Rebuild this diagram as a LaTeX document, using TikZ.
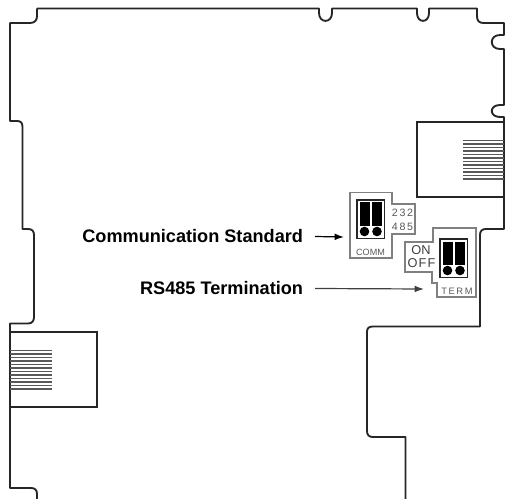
\documentclass[tikz,border=0pt]{standalone}
\usepackage{fontspec}
\usetikzlibrary{arrows.meta}
\setmainfont{Liberation Sans}
\tikzset{
  board/.style={line width=1.4pt, draw=black!85},
  port/.style={line width=1.3pt, draw=black!85},
  pins/.style={line width=1.1pt, draw=black!65},
  silk/.style={line width=.8pt, draw=black!50},
  silktext/.style={inner sep=0, text=black!65},
  callout/.style={inner sep=0, outer sep=9pt, anchor=east, font=\bfseries\fontsize{13.6}{16}\selectfont},
}
\begin{document}
\begin{tikzpicture}[x=.75pt, y=-.75pt]
        \useasboundingbox (0, 0) rectangle (507, 499);
        % board outline, top and right
        \draw[board, line join=round]
        (37, 8.5) -- (319, 8.5) -- (319, 13) .. controls (319, 23.5) and (332, 23.5) .. (332, 13) -- (332, 8.5)
        -- (417, 8.5) -- (417, 13) .. controls (417, 23.5) and (429, 23.5) .. (429, 13) -- (429, 8.5)
        -- (477, 8.5) -- (477, 16) .. controls (477, 21) and (479, 23) .. (484, 23) -- (504, 23)
        -- (504, 35) -- (500, 35) .. controls (489, 35) and (489, 49) .. (500, 49) -- (504, 49)
        -- (504, 105) -- (500, 105) .. controls (489, 105) and (489, 117) .. (500, 117) -- (504, 117)
        -- (504, 229) -- (486, 229) .. controls (482, 229) and (480, 231) .. (480, 235)
        -- (480, 326.5) -- (373, 326.5) .. controls (369, 326.5) and (367, 328) .. (367, 332)
        -- (367, 431) .. controls (367, 435) and (369, 437) .. (373, 437) -- (405.5, 437) -- (405.5, 499);
        % board outline, left
        \draw[board, line join=round]
        (37, 8.5) -- (37, 16) .. controls (37, 20) and (35, 23) .. (30, 23) -- (10, 23)
        -- (10, 121) -- (17, 121) .. controls (21, 121) and (22.5, 123) .. (22.5, 127)
        -- (22.5, 229) -- (28, 229) .. controls (32, 229) and (34, 231) .. (34, 235)
        -- (34, 317) .. controls (34, 321) and (32, 323.5) .. (28, 323.5) -- (10, 323.5)
        -- (10, 488) -- (31, 488) .. controls (35, 488) and (37, 490) .. (37, 494) -- (37, 499);
        % ports
        \draw[port] (504, 122) -- (417, 122) -- (417, 197) -- (504, 197);
        \draw[port] (10, 332) -- (97, 332) -- (97, 407) -- (10, 407);
        \foreach \n in {0, ..., 11} {
          \draw[pins] (463, 140.5 + \n * 3.5) -- (504, 140.5 + \n * 3.5);
          \draw[pins] (10, 350.5 + \n * 3.5) -- (52, 350.5 + \n * 3.5);
        }
        % silkscreen outlines
        \draw[silk] (350, 192.5) -- (392, 192.5) -- (392, 204) -- (415, 204) -- (415, 234) -- (392, 234) -- (392, 258) -- (350, 258) -- cycle;
        \draw[silk] (433, 228) -- (476, 228) -- (476, 297) -- (437, 297) -- (437, 283) -- (432, 283) -- (432, 272) -- (405, 272) -- (405, 242) -- (433, 242) -- cycle;
        % jumpers
        \foreach \jx/\jy in {357/200, 440/239} {
          \draw[line width=1.3pt, draw=black!85] (\jx, \jy) rectangle (\jx + 27.5, \jy + 38.5);
          \fill[black] (\jx + 2.5, \jy + 2.5) rectangle (\jx + 13, \jy + 26);
          \fill[black] (\jx + 14.5, \jy + 2.5) rectangle (\jx + 25, \jy + 26);
          \fill[black] (\jx + 7.5, \jy + 31.5) circle[radius=4.8];
          \fill[black] (\jx + 20, \jy + 31.5) circle[radius=4.8];
        }
        % texts
        \node[silktext, font=\fontsize{8}{9}\selectfont] (lbltwo) at (402.5, 213) {2\,3\,2};
        \node[silktext, font=\fontsize{8}{9}\selectfont] (lblfour) at (402.5, 227) {4\,8\,5};
        \node[silktext, font=\fontsize{6.8}{8}\selectfont] (lblcomm) at (370.5, 252) {COMM};
        \node[silktext, font=\fontsize{9.6}{12}\selectfont, text=black!75] (lblon) at (421, 250) {ON};
        \node[silktext, font=\fontsize{9.6}{12}\selectfont, text=black!75] (lbloff) at (421.5, 263) {O\hspace{.8pt}F\hspace{.8pt}F};
        \node[silktext, font=\fontsize{7}{8}\selectfont] (lblterm) at (457, 291) {T\,E\,R\,M};
        % callouts
        \node[callout] (commlabel) at (315, 236.5) {Communication Standard};
        \node[callout] (termlabel) at (315, 288.5) {RS485 Termination};
        \coordinate (commend) at (344, 237);
        \coordinate (termend) at (424, 289);
        \draw[-{Latex[length=7pt, width=5pt]}, line width=.9pt, black] (commlabel.east) -- (commend);
        \draw[-{Latex[length=7pt, width=5pt]}, line width=.9pt, black!75] (termlabel.east) -- (termend);
      \end{tikzpicture}
\end{document}
